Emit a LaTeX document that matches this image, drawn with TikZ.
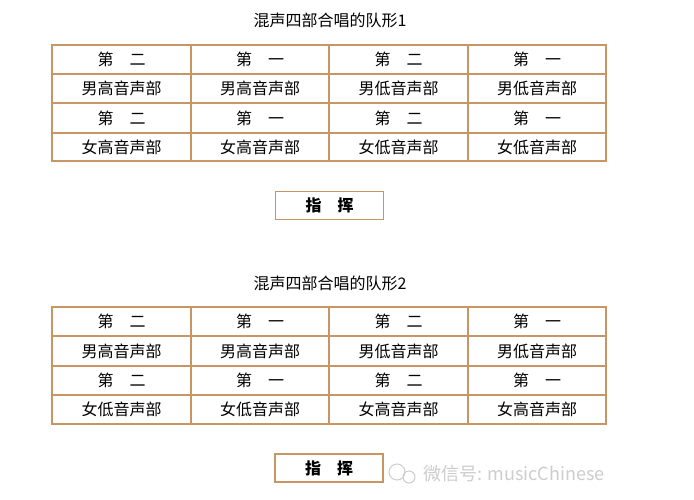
\documentclass[tikz,border=0pt]{standalone}
\usepackage{fontspec}
\newfontfamily\cjk{Noto Sans CJK SC}
\definecolor{gridc}{RGB}{200,150,100}
\definecolor{wm}{RGB}{205,205,205}
\begin{document}
\begin{tikzpicture}[x=1pt,y=-1pt,
  cell/.style={font=\cjk\fontsize{16}{16}\selectfont, inner sep=0pt, anchor=center},
  ttl/.style={font=\cjk\fontsize{16}{16}\selectfont, inner sep=0pt},
  cond/.style={draw=gridc, line width=1.2pt, minimum width=108pt, minimum height=28pt, inner sep=0pt, font=\cjk\bfseries\fontsize{16}{16}\selectfont, fill=white},
  gridline/.style={draw=gridc, line width=1.2pt}]
\useasboundingbox (0,0) rectangle (694,500);
\fill[white] (0,0) rectangle (694,500);
% ---------- Table 1
\node[ttl] (t1) at (330,20) {混声四部合唱的队形1};
\draw[gridline] (52,45) rectangle (606,161);
\foreach \yy in {74,103,133} \draw[gridline] (52,\yy) -- (606,\yy);
\foreach \xx in {191,329,468} \draw[gridline] (\xx,45) -- (\xx,161);
\node[cell] (a11) at (121.5,59.5) {第\hspace{1em}二};
\node[cell] (a12) at (260,59.5) {第\hspace{1em}一};
\node[cell] (a13) at (398.5,59.5) {第\hspace{1em}二};
\node[cell] (a14) at (537,59.5) {第\hspace{1em}一};
\node[cell] (a21) at (121.5,88.5) {男高音声部};
\node[cell] (a22) at (260,88.5) {男高音声部};
\node[cell] (a23) at (398.5,88.5) {男低音声部};
\node[cell] (a24) at (537,88.5) {男低音声部};
\node[cell] (a31) at (121.5,118) {第\hspace{1em}二};
\node[cell] (a32) at (260,118) {第\hspace{1em}一};
\node[cell] (a33) at (398.5,118) {第\hspace{1em}二};
\node[cell] (a34) at (537,118) {第\hspace{1em}一};
\node[cell] (a41) at (121.5,147) {女高音声部};
\node[cell] (a42) at (260,147) {女高音声部};
\node[cell] (a43) at (398.5,147) {女低音声部};
\node[cell] (a44) at (537,147) {女低音声部};
\node[cond] (c1) at (329.5,205.5) {指\hspace{1em}挥};
% ---------- Table 2
\node[ttl] (t2) at (330,283) {混声四部合唱的队形2};
\draw[gridline] (52,307) rectangle (606,424);
\foreach \yy in {336,366,395} \draw[gridline] (52,\yy) -- (606,\yy);
\foreach \xx in {191,329,468} \draw[gridline] (\xx,307) -- (\xx,424);
\node[cell] (b11) at (121.5,321.5) {第\hspace{1em}二};
\node[cell] (b12) at (260,321.5) {第\hspace{1em}一};
\node[cell] (b13) at (398.5,321.5) {第\hspace{1em}二};
\node[cell] (b14) at (537,321.5) {第\hspace{1em}一};
\node[cell] (b21) at (121.5,351) {男高音声部};
\node[cell] (b22) at (260,351) {男高音声部};
\node[cell] (b23) at (398.5,351) {男低音声部};
\node[cell] (b24) at (537,351) {男低音声部};
\node[cell] (b31) at (121.5,380.5) {第\hspace{1em}二};
\node[cell] (b32) at (260,380.5) {第\hspace{1em}一};
\node[cell] (b33) at (398.5,380.5) {第\hspace{1em}二};
\node[cell] (b34) at (537,380.5) {第\hspace{1em}一};
\node[cell] (b41) at (121.5,409.5) {女低音声部};
\node[cell] (b42) at (260,409.5) {女低音声部};
\node[cell] (b43) at (398.5,409.5) {女高音声部};
\node[cell] (b44) at (537,409.5) {女高音声部};
\node[cond] (c2) at (329,468) {指\hspace{1em}挥};
% ---------- watermark
\draw[wm, line width=1pt] (397,472) circle (8);
\draw[wm, line width=1pt] (409,477) circle (6);
\node[font=\cjk\fontsize{18}{18}\selectfont, text=wm, anchor=west, inner sep=0pt] (wmk) at (423,474) {微信号: musicChinese};
\end{tikzpicture}
\end{document}
